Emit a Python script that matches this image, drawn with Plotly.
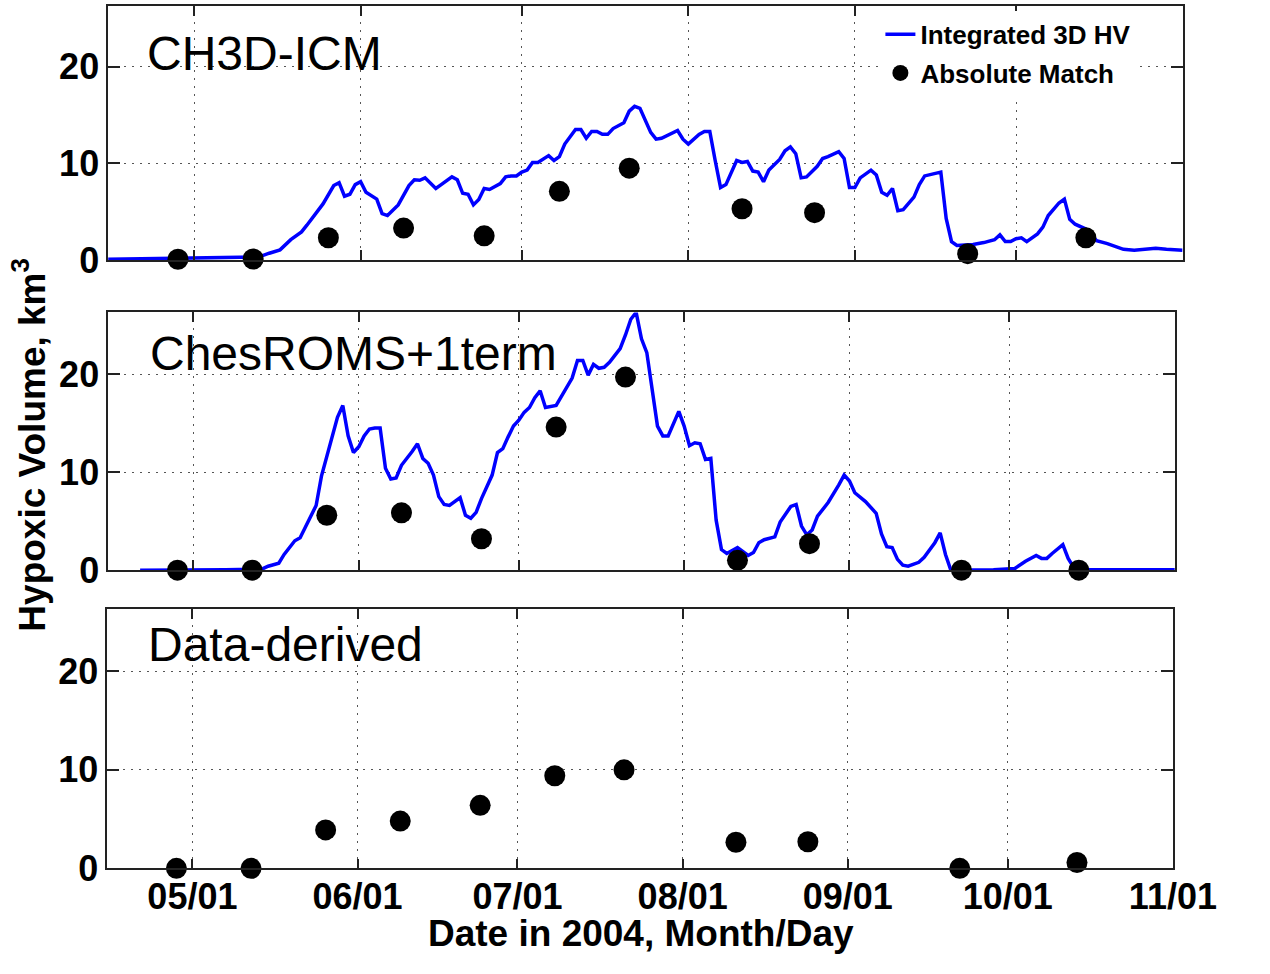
import plotly.graph_objects as go

# ---------------- data ----------------
ch3d_dates = ["2004-04-15","2004-04-22","2004-05-01","2004-05-06","2004-05-13","2004-05-15","2004-05-17",
    "2004-05-19","2004-05-21","2004-05-22","2004-05-25","2004-05-27","2004-05-28","2004-05-29","2004-05-30",
    "2004-05-31","2004-06-01","2004-06-02","2004-06-04","2004-06-05","2004-06-06","2004-06-08","2004-06-10",
    "2004-06-11","2004-06-12","2004-06-13","2004-06-14","2004-06-15","2004-06-16","2004-06-18","2004-06-19",
    "2004-06-20","2004-06-21","2004-06-22","2004-06-23","2004-06-24","2004-06-25","2004-06-27","2004-06-28",
    "2004-06-29","2004-06-30","2004-07-01","2004-07-02","2004-07-03","2004-07-04","2004-07-06","2004-07-07",
    "2004-07-08","2004-07-09","2004-07-11","2004-07-12","2004-07-13","2004-07-14","2004-07-15","2004-07-16",
    "2004-07-17","2004-07-18","2004-07-19","2004-07-20","2004-07-21","2004-07-22","2004-07-23","2004-07-24",
    "2004-07-25","2004-07-26","2004-07-27","2004-07-30","2004-07-31","2004-08-01","2004-08-03","2004-08-04",
    "2004-08-05","2004-08-06","2004-08-07","2004-08-08","2004-08-10","2004-08-11","2004-08-12","2004-08-13",
    "2004-08-14","2004-08-15","2004-08-16","2004-08-18","2004-08-19","2004-08-20","2004-08-21","2004-08-22",
    "2004-08-23","2004-08-25","2004-08-26","2004-08-27","2004-08-29","2004-08-30","2004-08-31","2004-09-01",
    "2004-09-02","2004-09-04","2004-09-05","2004-09-06","2004-09-07","2004-09-08","2004-09-09","2004-09-10",
    "2004-09-12","2004-09-13","2004-09-14","2004-09-17","2004-09-18","2004-09-19","2004-09-20","2004-09-23",
    "2004-09-25","2004-09-27","2004-09-28","2004-09-29","2004-09-30","2004-10-01","2004-10-02","2004-10-03",
    "2004-10-05","2004-10-06","2004-10-07","2004-10-09","2004-10-10","2004-10-11","2004-10-12","2004-10-14",
    "2004-10-16","2004-10-18","2004-10-21","2004-10-23","2004-10-27","2004-10-29","2004-11-01"]
ch3d_values = [0.07,0.12,0.2,0.25,0.3,0.7,1.05,
    2.1,2.9,3.6,5.8,7.7,8.0,6.6,6.8,
    7.8,8.1,7.0,6.3,4.8,4.6,5.7,7.7,
    8.3,8.25,8.5,7.9,7.4,7.8,8.6,8.3,
    6.9,6.8,5.7,6.25,7.4,7.3,7.9,8.6,
    8.7,8.7,9.1,9.3,10.1,10.1,10.8,10.3,
    10.7,12.0,13.5,13.5,12.6,13.3,13.3,13.0,
    13.0,13.6,13.9,14.2,15.4,15.9,15.7,14.5,
    13.2,12.5,12.6,13.4,12.5,12.0,13.0,13.3,
    13.3,10.3,7.5,7.8,10.3,10.1,10.2,9.2,
    9.1,8.1,9.3,10.4,11.3,11.7,11.0,8.5,
    8.6,9.7,10.5,10.7,11.2,10.5,7.5,7.5,
    8.5,9.3,8.8,7.0,6.7,7.4,5.1,5.2,
    6.5,7.8,8.7,9.1,4.3,1.9,1.5,1.6,
    1.8,2.1,2.6,1.9,1.9,2.2,2.3,1.9,
    2.7,3.4,4.6,5.9,6.3,4.2,3.7,3.2,
    2.0,1.7,1.1,1.0,1.2,1.1,1.0]

roms_dates = ["2004-04-21","2004-05-01","2004-05-07","2004-05-12","2004-05-14","2004-05-15","2004-05-17",
    "2004-05-18","2004-05-19","2004-05-20","2004-05-21","2004-05-22","2004-05-24","2004-05-25","2004-05-26",
    "2004-05-28","2004-05-29","2004-05-30","2004-05-31","2004-06-01","2004-06-02","2004-06-03","2004-06-04",
    "2004-06-05","2004-06-06","2004-06-07","2004-06-08","2004-06-09","2004-06-11","2004-06-12","2004-06-13",
    "2004-06-14","2004-06-15","2004-06-16","2004-06-17","2004-06-18","2004-06-20","2004-06-21","2004-06-22",
    "2004-06-23","2004-06-24","2004-06-26","2004-06-27","2004-06-28","2004-06-29","2004-06-30","2004-07-01",
    "2004-07-02","2004-07-03","2004-07-04","2004-07-05","2004-07-06","2004-07-08","2004-07-09","2004-07-11",
    "2004-07-12","2004-07-13","2004-07-14","2004-07-15","2004-07-16","2004-07-17","2004-07-18","2004-07-20",
    "2004-07-21","2004-07-22","2004-07-23","2004-07-24","2004-07-25","2004-07-26","2004-07-27","2004-07-28",
    "2004-07-29","2004-07-31","2004-08-01","2004-08-02","2004-08-03","2004-08-04","2004-08-05","2004-08-06",
    "2004-08-07","2004-08-08","2004-08-09","2004-08-11","2004-08-13","2004-08-14","2004-08-15","2004-08-16",
    "2004-08-18","2004-08-19","2004-08-21","2004-08-22","2004-08-23","2004-08-24","2004-08-25","2004-08-26",
    "2004-08-28","2004-08-30","2004-08-31","2004-09-01","2004-09-02","2004-09-04","2004-09-06","2004-09-07",
    "2004-09-08","2004-09-09","2004-09-10","2004-09-11","2004-09-12","2004-09-14","2004-09-15","2004-09-17",
    "2004-09-18","2004-09-19","2004-09-20","2004-09-28","2004-10-01","2004-10-02","2004-10-04","2004-10-06",
    "2004-10-07","2004-10-08","2004-10-09","2004-10-11","2004-10-12","2004-10-13","2004-10-16","2004-11-01"]
roms_values = [0.0,0.0,0.05,0.1,0.15,0.4,0.7,
    1.6,2.3,3.0,3.3,4.4,6.6,9.6,11.7,
    15.6,16.8,13.7,12.0,12.6,13.7,14.4,14.5,
    14.5,10.4,9.3,9.4,10.7,12.1,12.9,11.4,
    10.9,9.7,7.5,6.7,6.6,7.4,5.6,5.3,
    5.9,7.3,9.7,12.0,12.4,13.6,14.7,15.3,
    16.1,16.6,17.6,18.3,16.6,16.8,17.7,19.6,
    21.4,21.4,19.9,21.0,20.6,20.7,21.2,22.6,
    24.0,25.6,26.3,23.6,22.2,18.2,14.7,13.7,
    13.7,16.2,14.7,12.7,13.0,12.9,11.3,11.4,
    5.1,2.1,1.7,2.3,1.5,1.8,2.8,3.1,
    3.4,4.9,6.5,6.7,4.5,3.6,4.1,5.5,
    6.9,8.7,9.7,9.1,7.9,7.0,5.8,3.7,
    2.4,2.3,1.1,0.5,0.4,0.8,1.3,2.8,
    3.8,1.6,0.0,0.03,0.17,0.17,0.9,1.5,
    1.2,1.2,1.7,2.6,1.2,0.3,0.05,0.05]

cruise_dates = ["2004-04-28","2004-05-12","2004-05-26","2004-06-09","2004-06-24","2004-07-08",
                "2004-07-21","2004-08-11","2004-08-24 12:00","2004-09-22","2004-10-14"]
ch3d_match = [0.07,0.1,2.3,3.3,2.5,7.1,9.5,5.3,4.9,0.65,2.3]
roms_match = [0.0,0.0,5.6,5.85,3.2,14.6,19.7,1.0,2.7,0.0,0.0]
data_derived = [0.0,0.0,3.9,4.8,6.4,9.4,10.0,2.65,2.7,0.0,0.6]

panel_titles = ["CH3D-ICM", "ChesROMS+1term", "Data-derived"]
y_ticks = [0, 10, 20]
x_range = ["2004-04-15", "2004-11-01"]
y_range = [0, 26.3]

# ---------------- figure ----------------
W, H = 1270, 974
BLUE = "#0000FF"
FONT = "Liberation Sans, Arial, sans-serif"

fig = go.Figure()

def px_x(v):
    return v / W

def px_y(v):
    return 1 - v / H

# panel pixel boxes (left, right, top, bottom)
boxes = [(112, 1225, 6, 265.7), (112, 1217, 319.3, 582.7), (111, 1215, 622.7, 887.5)]

lines = [(ch3d_dates, ch3d_values), (roms_dates, roms_values), None]
dots = [ch3d_match, roms_match, data_derived]

for i in range(3):
    xa = "x" if i == 0 else f"x{i+1}"
    ya = "y" if i == 0 else f"y{i+1}"
    if lines[i] is not None:
        fig.add_trace(go.Scatter(x=lines[i][0], y=lines[i][1], mode="lines",
                                 line=dict(color=BLUE, width=3.5),
                                 name="Integrated 3D HV", showlegend=(i == 0),
                                 legendgroup="a", xaxis=xa, yaxis=ya))
    fig.add_trace(go.Scatter(x=cruise_dates, y=dots[i], mode="markers",
                             marker=dict(color="black", size=21),
                             name="Absolute Match", showlegend=(i == 0),
                             legendgroup="b", xaxis=xa, yaxis=ya, cliponaxis=False))

axis_common = dict(showline=True, linecolor="#222", linewidth=1.5, mirror="ticks",
                   ticks="inside", tickcolor="#222", tickwidth=1.5,
                   showgrid=True, gridcolor="#555", gridwidth=1, griddash="2px,6px",
                   zeroline=False)

layout = dict(width=W, height=H, margin=dict(l=0, r=0, t=0, b=0),
              paper_bgcolor="white", plot_bgcolor="white", autosize=False,
              font=dict(family=FONT, color="black"))

for i, (l, r, t, b) in enumerate(boxes):
    xkey = "xaxis" if i == 0 else f"xaxis{i+1}"
    ykey = "yaxis" if i == 0 else f"yaxis{i+1}"
    ya = "y" if i == 0 else f"y{i+1}"
    xa = "x" if i == 0 else f"x{i+1}"
    layout[xkey] = dict(axis_common, domain=[px_x(l), px_x(r)], anchor=ya, type="date",
                        range=x_range, dtick="M1", tick0="2004-05-01", tickformat="%m/%d",
                        ticklen=10, showticklabels=(i == 2), ticklabelstandoff=-4,
                        tickfont=dict(family=FONT, size=36, weight="bold"))
    layout[ykey] = dict(axis_common, domain=[px_y(b), px_y(t)], anchor=xa,
                        range=y_range, tickvals=y_ticks, ticklen=12,
                        tickfont=dict(family=FONT, size=36, weight="bold"))

layout["legend"] = dict(x=px_x(912), y=px_y(11), xanchor="left", yanchor="top",
                        bgcolor="white", borderwidth=0, traceorder="grouped",
                        tracegroupgap=2,
                        font=dict(family=FONT, size=26, weight="bold"))

fig.update_layout(**layout)

label_pos = [(150, 54.5), (153.6, 361.5), (151.7, 659.2)]
for txt, (lx, ly) in zip(panel_titles, label_pos):
    fig.add_annotation(text=txt, x=px_x(lx), y=px_y(ly), xref="paper", yref="paper",
                       xanchor="left", yanchor="middle", showarrow=False,
                       font=dict(family=FONT, size=48, color="black"))

fig.add_annotation(text="<b>Hypoxic Volume, km<sup>3</sup></b>", x=px_x(31), y=px_y(454.5),
                   xref="paper", yref="paper", textangle=-90, showarrow=False,
                   xanchor="center", yanchor="middle",
                   font=dict(family=FONT, size=37, color="black"))
fig.add_annotation(text="<b>Date in 2004, Month/Day</b>", x=px_x(664), y=px_y(954),
                   xref="paper", yref="paper", showarrow=False,
                   xanchor="center", yanchor="middle",
                   font=dict(family=FONT, size=37, color="black"))

fig.write_html("out.html")
